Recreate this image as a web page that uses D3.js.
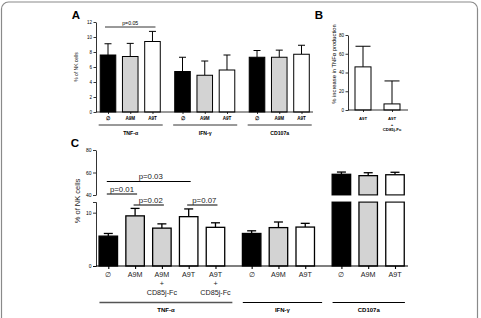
<!DOCTYPE html>
<html>
<head>
<meta charset="utf-8">
<script src="https://cdn.jsdelivr.net/npm/d3@7"></script>
<style>
body{margin:0;background:#fff}
svg{display:block;font-family:"Liberation Sans",Arial,sans-serif}
</style>
</head>
<body>
<svg id="chart" width="481" height="318"></svg>
<script>
// ---- data ----
// panel A: % of NK cells
var groupsA = ['TNF-\u03b1', 'IFN-\u03b3', 'CD107a'];
var condA = ['\u2205', 'A9M', 'A9T'];
var meanA = [[7.6, 7.4, 9.4], [5.4, 4.9, 5.6], [7.3, 7.3, 7.7]];
var semA = [[1.5, 1.75, 1.35], [1.9, 1.9, 2.0], [0.9, 0.95, 1.2]];
var ticksA = [0, 2, 4, 6, 8, 10, 12];

// panel B: % increase in TNF-a production
var condB = [['A9T'], ['A9T', '+', 'CD85j-Fc']];
var meanB = [46, 6.5];
var semB = [22, 24.5];
var ticksB = [0, 20, 40, 60, 80];

// panel C: % of NK cells (broken axis)
var groupsC = ['TNF-\u03b1', 'IFN-\u03b3', 'CD107a'];
var condC = [
  [['\u2205'], ['A9M'], ['A9M', '+', 'CD85j-Fc'], ['A9T'], ['A9T', '+', 'CD85j-Fc']],
  [['\u2205'], ['A9M'], ['A9T']],
  [['\u2205'], ['A9M'], ['A9T']]
];
var meanC = [[5.6, 9.4, 7.1, 9.25, 7.25], [6.1, 7.2, 7.3], [58.4, 57.2, 58]];
var semC = [[0.5, 1.4, 0.8, 1.45, 0.85], [0.5, 1.05, 0.7], [2.0, 2.6, 2.2]];
var ticksCLow = [0, 10];
var ticksCHigh = [40, 60, 80];
var pvalC = [
  {from: 0, to: 3, label: 'p=0.03'},
  {from: 0, to: 1, label: 'p=0.01'},
  {from: 1, to: 2, label: 'p=0.02'},
  {from: 3, to: 4, label: 'p=0.07'}
];
var pvalA = [{from: 0, to: 2, label: 'p=0.05'}];

var fills = {'\u2205': '#000', 'A9M': '#d3d3d3', 'A9T': '#fff'};

var svg = d3.select('#chart');

// frame
svg.append('rect')
  .attr('x', 1.5).attr('y', 2).attr('width', 476).attr('height', 340)
  .attr('rx', 7).attr('fill', 'none').attr('stroke', '#8a8a8a').attr('stroke-width', 1.2);

function letter(t, x, y) {
  svg.append('text').attr('x', x).attr('y', y).attr('text-anchor', 'middle')
    .attr('font-size', 11.5).attr('font-weight', 'bold').text(t);
}
letter('A', 76, 19);
letter('B', 319, 19);
letter('C', 75, 147);

function styleAxis(g, fs) {
  g.selectAll('path,line').attr('stroke', '#000').attr('stroke-width', 0.8);
  g.selectAll('text').attr('font-size', fs).attr('fill', '#000');
}

function errBar(g, cx, yTop, yCap, half, sw) {
  g.append('line').attr('x1', cx).attr('x2', cx).attr('y1', yTop).attr('y2', yCap)
    .attr('stroke', '#000').attr('stroke-width', sw);
  g.append('line').attr('x1', cx - half).attr('x2', cx + half).attr('y1', yCap).attr('y2', yCap)
    .attr('stroke', '#000').attr('stroke-width', sw);
}

// ---------- panel A ----------
(function () {
  var gap = 0.35;
  var nSlots = groupsA.length * condA.length + (groupsA.length - 1) * gap - 1;
  var x = d3.scaleLinear().domain([0, nSlots]).range([108, 301.5]);
  var step = x(1) - x(0);
  var bw = step * 0.7;
  var y = d3.scaleLinear().domain([0, 12]).range([112, 22]);
  var slot = function (g, i) { return g * (condA.length + gap) + i; };
  var g = svg.append('g');

  meanA.forEach(function (vals, gi) {
    vals.forEach(function (v, i) {
      var cx = x(slot(gi, i));
      errBar(g, cx, y(v), y(v + semA[gi][i]), 3.5, 1);
      g.append('rect').attr('x', cx - bw / 2).attr('y', y(v)).attr('width', bw)
        .attr('height', y(0) - y(v)).attr('fill', fills[condA[i]])
        .attr('stroke', '#000').attr('stroke-width', 1);
      g.append('text').attr('x', cx).attr('y', 120).attr('text-anchor', 'middle')
        .attr('font-size', 4.6).attr('font-weight', 'bold').text(condA[i]);
    });
    var x0 = x(slot(gi, 0)) - step * 0.42, x1 = x(slot(gi, condA.length - 1)) + step * 0.46;
    g.append('line').attr('x1', x0).attr('x2', x1).attr('y1', 125).attr('y2', 125)
      .attr('stroke', '#000').attr('stroke-width', 0.8);
    g.append('text').attr('x', (x0 + x1) / 2).attr('y', 135).attr('text-anchor', 'middle')
      .attr('font-size', 5.2).attr('font-weight', 'bold').text(groupsA[gi]);
  });

  var ax = g.append('g').attr('transform', 'translate(96,0)')
    .call(d3.axisLeft(y).tickValues(ticksA).tickSize(2.5).tickSizeOuter(0).tickPadding(1.5));
  styleAxis(ax, 4.5);
  var xa = svg.append('g').attr('transform', 'translate(0,112)')
    .call(d3.axisBottom(x).tickValues(d3.merge(groupsA.map(function (_, gi) {
      return condA.map(function (_, i) { return slot(gi, i); });
    }))).tickFormat('').tickSize(2).tickSizeOuter(0));
  xa.select('.domain').attr('d', 'M96,0H313');
  styleAxis(xa, 4);

  g.append('text').attr('transform', 'translate(78,67) rotate(-90)').attr('text-anchor', 'middle')
    .attr('font-size', 5).text('% of NK cells');

  pvalA.forEach(function (p) {
    var a = x(slot(0, p.from)) - 3, b = x(slot(0, p.to)) + 3;
    g.append('line').attr('x1', a).attr('x2', b).attr('y1', 27).attr('y2', 27)
      .attr('stroke', '#000').attr('stroke-width', 0.8);
    g.append('text').attr('x', (a + b) / 2).attr('y', 25).attr('text-anchor', 'middle')
      .attr('font-size', 5.2).text(p.label);
  });
})();

// ---------- panel B ----------
(function () {
  var x = d3.scaleLinear().domain([0, 1]).range([363, 392]);
  var bw = 16;
  var y = d3.scaleLinear().domain([0, 80]).range([110, 35]);
  var g = svg.append('g');
  meanB.forEach(function (v, i) {
    var cx = x(i);
    errBar(g, cx, y(v), y(v + semB[i]), 7.5, 1);
    g.append('rect').attr('x', cx - bw / 2).attr('y', y(v)).attr('width', bw)
      .attr('height', y(0) - y(v)).attr('fill', '#fff')
      .attr('stroke', '#000').attr('stroke-width', 1);
    condB[i].forEach(function (t, k) {
      g.append('text').attr('x', cx).attr('y', 120 + k * 5.5).attr('text-anchor', 'middle')
        .attr('font-size', 4.3).attr('font-weight', 'bold').text(t);
    });
  });
  var ax = g.append('g').attr('transform', 'translate(348,0)')
    .call(d3.axisLeft(y).tickValues(ticksB).tickSize(2.5).tickSizeOuter(0).tickPadding(1.5));
  styleAxis(ax, 4.5);
  var xa = g.append('g').attr('transform', 'translate(0,110)')
    .call(d3.axisBottom(x).tickValues([0, 1]).tickFormat('').tickSize(2).tickSizeOuter(0));
  xa.select('.domain').attr('d', 'M348,0H408');
  styleAxis(xa, 4);
  g.append('text').attr('transform', 'translate(336,64) rotate(-90)').attr('text-anchor', 'middle')
    .attr('font-size', 5.8).text('% increase in TNF\u03b1 production');
})();

// ---------- panel C ----------
(function () {
  var gap = 0.35;
  var starts = [], s = 0;
  condC.forEach(function (c) { starts.push(s); s += c.length + gap; });
  var lastSlot = s - gap - 1;
  var x = d3.scaleLinear().domain([0, lastSlot]).range([108.3, 395]);
  var step = x(1) - x(0);
  var bw = step * 0.69;
  var yLow = d3.scaleLinear().domain([0, 12]).range([266, 202]);
  var yHigh = d3.scaleLinear().domain([40, 80]).range([195, 150]);
  var yOf = function (v) { return v > 12 ? yHigh(v) : yLow(v); };
  var g = svg.append('g');
  var tickSlots = [];

  meanC.forEach(function (vals, gi) {
    vals.forEach(function (v, i) {
      var sl = starts[gi] + i;
      tickSlots.push(sl);
      var cx = x(sl);
      var lab = condC[gi][i];
      var fill = fills[lab[0]];
      errBar(g, cx, yOf(v), yOf(v + semC[gi][i]), 4.5, 1.3);
      if (v > 12) {
        g.append('rect').attr('x', cx - bw / 2).attr('y', yLow(12)).attr('width', bw)
          .attr('height', yLow(0) - yLow(12)).attr('fill', fill)
          .attr('stroke', '#000').attr('stroke-width', 1.3);
        g.append('rect').attr('x', cx - bw / 2).attr('y', yHigh(v)).attr('width', bw)
          .attr('height', yHigh(40) - yHigh(v)).attr('fill', fill)
          .attr('stroke', '#000').attr('stroke-width', 1.3);
        // break gap
        g.append('rect').attr('x', cx - bw / 2 - 1).attr('y', yHigh(40) + 0.7).attr('width', bw + 2)
          .attr('height', yLow(12) - yHigh(40) - 1.4).attr('fill', '#fff');
      } else {
        g.append('rect').attr('x', cx - bw / 2).attr('y', yLow(v)).attr('width', bw)
          .attr('height', yLow(0) - yLow(v)).attr('fill', fill)
          .attr('stroke', '#000').attr('stroke-width', 1.3);
      }
      lab.forEach(function (t, k) {
        g.append('text').attr('x', cx).attr('y', 277 + k * 9).attr('text-anchor', 'middle')
          .attr('font-size', 7.2).attr('fill', '#222').text(t);
      });
    });
    var x0 = x(starts[gi]) - step * 0.33, x1 = x(starts[gi] + vals.length - 1) + step * (gi === 2 ? 0.37 : 0.63);
    g.append('line').attr('x1', x0).attr('x2', x1).attr('y1', 302.5).attr('y2', 302.5)
      .attr('stroke', gi === 0 ? '#555' : '#000').attr('stroke-width', gi === 0 ? 1.6 : 1);
    g.append('text').attr('x', (x0 + x1) / 2).attr('y', 312).attr('text-anchor', 'middle')
      .attr('font-size', 6).attr('font-weight', 'bold').text(groupsC[gi]);
  });

  var axL = g.append('g').attr('transform', 'translate(96,0)')
    .call(d3.axisLeft(yLow).tickValues(ticksCLow).tickSize(3).tickSizeOuter(3).tickPadding(1.5));
  styleAxis(axL, 5);
  var axH = g.append('g').attr('transform', 'translate(96,0)')
    .call(d3.axisLeft(yHigh).tickValues(ticksCHigh).tickSize(3).tickSizeOuter(0).tickPadding(1.5));
  styleAxis(axH, 5);
  var xa = g.append('g').attr('transform', 'translate(0,266)')
    .call(d3.axisBottom(x).tickValues(tickSlots).tickFormat('').tickSize(3).tickSizeOuter(0));
  xa.select('.domain').attr('d', 'M96,0H408');
  styleAxis(xa, 5);
  xa.selectAll('path,line').attr('stroke-width', 1.1);

  g.append('text').attr('transform', 'translate(80,201) rotate(-90)').attr('text-anchor', 'middle')
    .attr('font-size', 7.5).attr('fill', '#222').text('% of NK cells');

  var pRows = [181.5, 194, 205, 205];
  pvalC.forEach(function (p, k) {
    var a = x(p.from) - 1.5, b = x(p.to) + 2;
    g.append('line').attr('x1', a).attr('x2', b).attr('y1', pRows[k]).attr('y2', pRows[k])
      .attr('stroke', '#000').attr('stroke-width', 1);
    g.append('text').attr('x', (a + b) / 2 + (k === 1 ? 0 : 2)).attr('y', pRows[k] - 2.3)
      .attr('text-anchor', 'middle').attr('font-size', 7.8).attr('fill', '#222').text(p.label);
  });
})();
</script>
</body>
</html>
